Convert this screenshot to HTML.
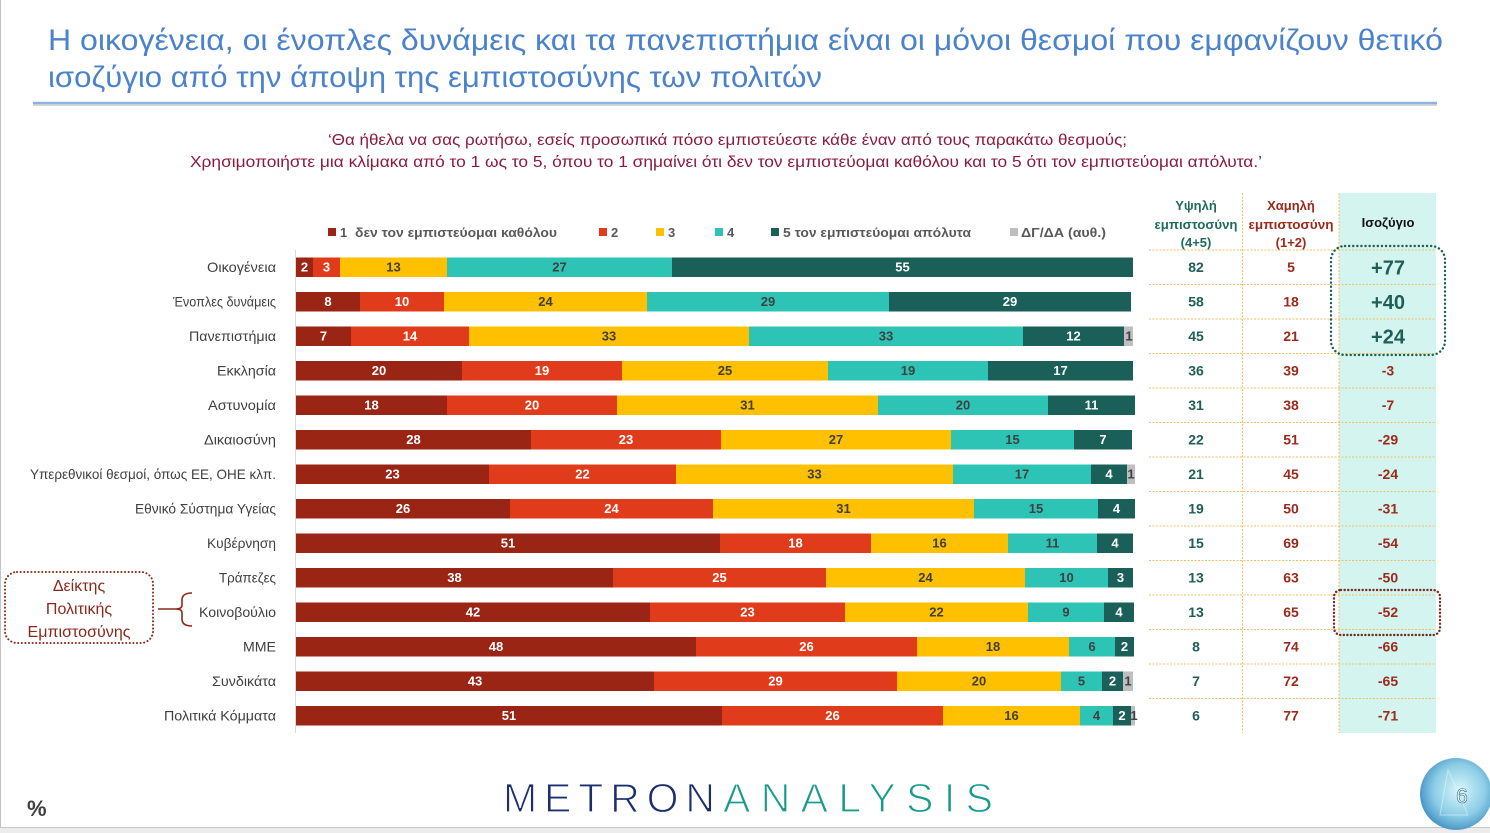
<!DOCTYPE html>
<html><head><meta charset="utf-8"><style>
html,body{margin:0;padding:0;background:#fff;}
svg{display:block;font-family:"Liberation Sans","DejaVu Sans",sans-serif;}
.cat{font-size:14px;fill:#404040;text-anchor:end;}
.bl{font-size:13px;font-weight:bold;text-anchor:middle;}
.w{fill:#fff;} .d{fill:#404040;}
.lg{font-size:13px;font-weight:bold;fill:#595959;}
.tv{font-size:14px;font-weight:bold;text-anchor:middle;}
.hi{fill:#1f5f57;} .lo{fill:#9b2a1a;}
.big{font-size:20px;font-weight:bold;text-anchor:middle;fill:#1f5f57;}
</style></head><body>
<svg width="1490" height="833" viewBox="0 0 1490 833" xmlns="http://www.w3.org/2000/svg">
<defs>
<radialGradient id="bub" cx="0.55" cy="0.45" r="0.6">
<stop offset="0" stop-color="#d8f6fc"/><stop offset="0.6" stop-color="#8ccde6"/><stop offset="1" stop-color="#3c8cc0"/>
</radialGradient>
</defs>
<rect width="1490" height="833" fill="#fff"/>
<line x1="0.5" y1="0" x2="0.5" y2="833" stroke="#c4c4c4" stroke-width="1"/>
<rect x="0" y="827" width="1490" height="6" fill="#ececec"/>
<line x1="0" y1="827.5" x2="1490" y2="827.5" stroke="#c8c8c8"/>

<!-- Title -->
<g font-size="30" fill="#4b82cc">
<text x="48" y="50" textLength="1395" lengthAdjust="spacingAndGlyphs">Η οικογένεια, οι ένοπλες δυνάμεις και τα πανεπιστήμια είναι οι μόνοι θεσμοί που εμφανίζουν θετικό</text>
<text x="48" y="87" textLength="774" lengthAdjust="spacingAndGlyphs">ισοζύγιο από την άποψη της εμπιστοσύνης των πολιτών</text>
</g>
<line x1="33" y1="105" x2="1437" y2="105" stroke="#d8d8d8" stroke-width="2"/>
<line x1="33" y1="103" x2="1437" y2="103" stroke="#8db3e2" stroke-width="2.5"/>

<!-- Subtitle -->
<g font-size="16" fill="#8b1a3e">
<text x="328" y="145" textLength="799" lengthAdjust="spacingAndGlyphs">‘Θα ήθελα να σας ρωτήσω, εσείς προσωπικά πόσο εμπιστεύεστε κάθε έναν από τους παρακάτω θεσμούς;</text>
<text x="190" y="167" textLength="1072" lengthAdjust="spacingAndGlyphs">Χρησιμοποιήστε μια κλίμακα από το 1 ως το 5, όπου το 1 σημαίνει ότι δεν τον εμπιστεύομαι καθόλου και το 5 ότι τον εμπιστεύομαι απόλυτα.’</text>
</g>

<!-- Legend -->
<rect x="328" y="228" width="8" height="8" fill="#9b2515"/>
<text class="lg" x="340" y="237">1</text>
<text class="lg" x="355" y="237" textLength="202" lengthAdjust="spacingAndGlyphs">δεν τον εμπιστεύομαι καθόλου</text>
<rect x="599" y="228" width="8" height="8" fill="#e03c1b"/>
<text class="lg" x="611" y="237">2</text>
<rect x="656" y="228" width="8" height="8" fill="#ffc000"/>
<text class="lg" x="668" y="237">3</text>
<rect x="715" y="228" width="8" height="8" fill="#2ec4b5"/>
<text class="lg" x="727" y="237">4</text>
<rect x="771" y="228" width="8" height="8" fill="#1a5f58"/>
<text class="lg" x="783" y="237" textLength="188" lengthAdjust="spacingAndGlyphs">5 τον εμπιστεύομαι απόλυτα</text>
<rect x="1010" y="228" width="8" height="8" fill="#bfbfbf"/>
<text class="lg" x="1021" y="237" textLength="85" lengthAdjust="spacingAndGlyphs">ΔΓ/ΔΑ (αυθ.)</text>

<!-- Axis -->
<line x1="295.5" y1="250" x2="295.5" y2="733" stroke="#d9d9d9" stroke-width="1"/>

<!-- Category labels -->
<text class="cat" x="276" y="272" textLength="69" lengthAdjust="spacingAndGlyphs">Οικογένεια</text>
<text class="cat" x="276" y="306.5" textLength="103" lengthAdjust="spacingAndGlyphs">Ένοπλες δυνάμεις</text>
<text class="cat" x="276" y="341" textLength="87" lengthAdjust="spacingAndGlyphs">Πανεπιστήμια</text>
<text class="cat" x="276" y="375.5" textLength="59" lengthAdjust="spacingAndGlyphs">Εκκλησία</text>
<text class="cat" x="276" y="410" textLength="68" lengthAdjust="spacingAndGlyphs">Αστυνομία</text>
<text class="cat" x="276" y="444.5" textLength="72" lengthAdjust="spacingAndGlyphs">Δικαιοσύνη</text>
<text class="cat" x="276" y="479" textLength="246" lengthAdjust="spacingAndGlyphs">Υπερεθνικοί θεσμοί, όπως ΕΕ, ΟΗΕ κλπ.</text>
<text class="cat" x="276" y="513.5" textLength="141" lengthAdjust="spacingAndGlyphs">Εθνικό Σύστημα Υγείας</text>
<text class="cat" x="276" y="548" textLength="69" lengthAdjust="spacingAndGlyphs">Κυβέρνηση</text>
<text class="cat" x="276" y="582.5" textLength="57" lengthAdjust="spacingAndGlyphs">Τράπεζες</text>
<text class="cat" x="276" y="617" textLength="77" lengthAdjust="spacingAndGlyphs">Κοινοβούλιο</text>
<text class="cat" x="276" y="651.5" textLength="33" lengthAdjust="spacingAndGlyphs">ΜΜΕ</text>
<text class="cat" x="276" y="686" textLength="64" lengthAdjust="spacingAndGlyphs">Συνδικάτα</text>
<text class="cat" x="276" y="720.5" textLength="112" lengthAdjust="spacingAndGlyphs">Πολιτικά Κόμματα</text>

<!-- Bars -->
<g>
<!-- R1 -->
<rect x="296" y="257.5" width="17" height="19.5" fill="#9b2515"/>
<rect x="313" y="257.5" width="27" height="19.5" fill="#e03c1b"/>
<rect x="340" y="257.5" width="107" height="19.5" fill="#ffc000"/>
<rect x="447" y="257.5" width="225" height="19.5" fill="#2ec4b5"/>
<rect x="672" y="257.5" width="461" height="19.5" fill="#1a5f58"/>
<text class="bl w" x="304.5" y="271.5">2</text><text class="bl w" x="326.5" y="271.5">3</text><text class="bl d" x="393.5" y="271.5">13</text><text class="bl d" x="559.5" y="271.5">27</text><text class="bl w" x="902.5" y="271.5">55</text>
<!-- R2 -->
<rect x="296" y="292" width="64" height="19.5" fill="#9b2515"/>
<rect x="360" y="292" width="84" height="19.5" fill="#e03c1b"/>
<rect x="444" y="292" width="203" height="19.5" fill="#ffc000"/>
<rect x="647" y="292" width="242" height="19.5" fill="#2ec4b5"/>
<rect x="889" y="292" width="242" height="19.5" fill="#1a5f58"/>
<text class="bl w" x="328" y="306">8</text><text class="bl w" x="402" y="306">10</text><text class="bl d" x="545.5" y="306">24</text><text class="bl d" x="768" y="306">29</text><text class="bl w" x="1010" y="306">29</text>
<!-- R3 -->
<rect x="296" y="326.5" width="55" height="19.5" fill="#9b2515"/>
<rect x="351" y="326.5" width="118" height="19.5" fill="#e03c1b"/>
<rect x="469" y="326.5" width="280" height="19.5" fill="#ffc000"/>
<rect x="749" y="326.5" width="274" height="19.5" fill="#2ec4b5"/>
<rect x="1023" y="326.5" width="101" height="19.5" fill="#1a5f58"/>
<rect x="1124" y="326.5" width="9" height="19.5" fill="#bfbfbf"/>
<text class="bl w" x="323.5" y="340.5">7</text><text class="bl w" x="410" y="340.5">14</text><text class="bl d" x="609" y="340.5">33</text><text class="bl d" x="886" y="340.5">33</text><text class="bl w" x="1073.5" y="340.5">12</text><text class="bl d" x="1129" y="340.5">1</text>
<!-- R4 -->
<rect x="296" y="361" width="166" height="19.5" fill="#9b2515"/>
<rect x="462" y="361" width="160" height="19.5" fill="#e03c1b"/>
<rect x="622" y="361" width="206" height="19.5" fill="#ffc000"/>
<rect x="828" y="361" width="160" height="19.5" fill="#2ec4b5"/>
<rect x="988" y="361" width="145" height="19.5" fill="#1a5f58"/>
<text class="bl w" x="379" y="375">20</text><text class="bl w" x="542" y="375">19</text><text class="bl d" x="725" y="375">25</text><text class="bl d" x="908" y="375">19</text><text class="bl w" x="1060.5" y="375">17</text>
<!-- R5 -->
<rect x="296" y="395.5" width="151" height="19.5" fill="#9b2515"/>
<rect x="447" y="395.5" width="170" height="19.5" fill="#e03c1b"/>
<rect x="617" y="395.5" width="261" height="19.5" fill="#ffc000"/>
<rect x="878" y="395.5" width="170" height="19.5" fill="#2ec4b5"/>
<rect x="1048" y="395.5" width="87" height="19.5" fill="#1a5f58"/>
<text class="bl w" x="371.5" y="409.5">18</text><text class="bl w" x="532" y="409.5">20</text><text class="bl d" x="747.5" y="409.5">31</text><text class="bl d" x="963" y="409.5">20</text><text class="bl w" x="1091.5" y="409.5">11</text>
<!-- R6 -->
<rect x="296" y="430" width="235" height="19.5" fill="#9b2515"/>
<rect x="531" y="430" width="190" height="19.5" fill="#e03c1b"/>
<rect x="721" y="430" width="230" height="19.5" fill="#ffc000"/>
<rect x="951" y="430" width="123" height="19.5" fill="#2ec4b5"/>
<rect x="1074" y="430" width="58" height="19.5" fill="#1a5f58"/>
<text class="bl w" x="413.5" y="444">28</text><text class="bl w" x="626" y="444">23</text><text class="bl d" x="836" y="444">27</text><text class="bl d" x="1012.5" y="444">15</text><text class="bl w" x="1103" y="444">7</text>
<!-- R7 -->
<rect x="296" y="464.5" width="193" height="19.5" fill="#9b2515"/>
<rect x="489" y="464.5" width="187" height="19.5" fill="#e03c1b"/>
<rect x="676" y="464.5" width="277" height="19.5" fill="#ffc000"/>
<rect x="953" y="464.5" width="138" height="19.5" fill="#2ec4b5"/>
<rect x="1091" y="464.5" width="36" height="19.5" fill="#1a5f58"/>
<rect x="1127" y="464.5" width="8" height="19.5" fill="#bfbfbf"/>
<text class="bl w" x="392.5" y="478.5">23</text><text class="bl w" x="582.5" y="478.5">22</text><text class="bl d" x="814.5" y="478.5">33</text><text class="bl d" x="1022" y="478.5">17</text><text class="bl w" x="1109" y="478.5">4</text><text class="bl d" x="1131" y="478.5">1</text>
<!-- R8 -->
<rect x="296" y="499" width="214" height="19.5" fill="#9b2515"/>
<rect x="510" y="499" width="203" height="19.5" fill="#e03c1b"/>
<rect x="713" y="499" width="261" height="19.5" fill="#ffc000"/>
<rect x="974" y="499" width="124" height="19.5" fill="#2ec4b5"/>
<rect x="1098" y="499" width="37" height="19.5" fill="#1a5f58"/>
<text class="bl w" x="403" y="513">26</text><text class="bl w" x="611.5" y="513">24</text><text class="bl d" x="843.5" y="513">31</text><text class="bl d" x="1036" y="513">15</text><text class="bl w" x="1116.5" y="513">4</text>
<!-- R9 -->
<rect x="296" y="533.5" width="424" height="19.5" fill="#9b2515"/>
<rect x="720" y="533.5" width="151" height="19.5" fill="#e03c1b"/>
<rect x="871" y="533.5" width="137" height="19.5" fill="#ffc000"/>
<rect x="1008" y="533.5" width="89" height="19.5" fill="#2ec4b5"/>
<rect x="1097" y="533.5" width="36" height="19.5" fill="#1a5f58"/>
<text class="bl w" x="508" y="547.5">51</text><text class="bl w" x="795.5" y="547.5">18</text><text class="bl d" x="939.5" y="547.5">16</text><text class="bl d" x="1052.5" y="547.5">11</text><text class="bl w" x="1115" y="547.5">4</text>
<!-- R10 -->
<rect x="296" y="568" width="317" height="19.5" fill="#9b2515"/>
<rect x="613" y="568" width="213" height="19.5" fill="#e03c1b"/>
<rect x="826" y="568" width="199" height="19.5" fill="#ffc000"/>
<rect x="1025" y="568" width="83" height="19.5" fill="#2ec4b5"/>
<rect x="1108" y="568" width="25" height="19.5" fill="#1a5f58"/>
<text class="bl w" x="454.5" y="582">38</text><text class="bl w" x="719.5" y="582">25</text><text class="bl d" x="925.5" y="582">24</text><text class="bl d" x="1066.5" y="582">10</text><text class="bl w" x="1120.5" y="582">3</text>
<!-- R11 -->
<rect x="296" y="602.5" width="354" height="19.5" fill="#9b2515"/>
<rect x="650" y="602.5" width="195" height="19.5" fill="#e03c1b"/>
<rect x="845" y="602.5" width="183" height="19.5" fill="#ffc000"/>
<rect x="1028" y="602.5" width="76" height="19.5" fill="#2ec4b5"/>
<rect x="1104" y="602.5" width="30" height="19.5" fill="#1a5f58"/>
<text class="bl w" x="473" y="616.5">42</text><text class="bl w" x="747.5" y="616.5">23</text><text class="bl d" x="936.5" y="616.5">22</text><text class="bl d" x="1066" y="616.5">9</text><text class="bl w" x="1119" y="616.5">4</text>
<!-- R12 -->
<rect x="296" y="637" width="400" height="19.5" fill="#9b2515"/>
<rect x="696" y="637" width="221" height="19.5" fill="#e03c1b"/>
<rect x="917" y="637" width="152" height="19.5" fill="#ffc000"/>
<rect x="1069" y="637" width="46" height="19.5" fill="#2ec4b5"/>
<rect x="1115" y="637" width="19" height="19.5" fill="#1a5f58"/>
<text class="bl w" x="496" y="651">48</text><text class="bl w" x="806.5" y="651">26</text><text class="bl d" x="993" y="651">18</text><text class="bl d" x="1092" y="651">6</text><text class="bl w" x="1124.5" y="651">2</text>
<!-- R13 -->
<rect x="296" y="671.5" width="358" height="19.5" fill="#9b2515"/>
<rect x="654" y="671.5" width="243" height="19.5" fill="#e03c1b"/>
<rect x="897" y="671.5" width="164" height="19.5" fill="#ffc000"/>
<rect x="1061" y="671.5" width="41" height="19.5" fill="#2ec4b5"/>
<rect x="1102" y="671.5" width="21" height="19.5" fill="#1a5f58"/>
<rect x="1123" y="671.5" width="10" height="19.5" fill="#bfbfbf"/>
<text class="bl w" x="475" y="685.5">43</text><text class="bl w" x="775.5" y="685.5">29</text><text class="bl d" x="979" y="685.5">20</text><text class="bl d" x="1081.5" y="685.5">5</text><text class="bl w" x="1112.5" y="685.5">2</text><text class="bl d" x="1128" y="685.5">1</text>
<!-- R14 -->
<rect x="296" y="706" width="426" height="19.5" fill="#9b2515"/>
<rect x="722" y="706" width="221" height="19.5" fill="#e03c1b"/>
<rect x="943" y="706" width="137" height="19.5" fill="#ffc000"/>
<rect x="1080" y="706" width="33" height="19.5" fill="#2ec4b5"/>
<rect x="1113" y="706" width="18" height="19.5" fill="#1a5f58"/>
<rect x="1131" y="706" width="4" height="19.5" fill="#bfbfbf"/>
<text class="bl w" x="509" y="720">51</text><text class="bl w" x="832.5" y="720">26</text><text class="bl d" x="1011.5" y="720">16</text><text class="bl d" x="1096.5" y="720">4</text><text class="bl w" x="1122" y="720">2</text><text class="bl d" x="1134" y="720">1</text>
</g>

<!-- Table -->
<rect x="1339" y="193" width="97" height="540" fill="#d4f4ef"/>
<g stroke="#f2c060" stroke-width="1" stroke-dasharray="2 1.5">
<line x1="1242.5" y1="193" x2="1242.5" y2="733"/>
<line x1="1339" y1="193" x2="1339" y2="733"/>
<line x1="1149" y1="250" x2="1436" y2="250"/>
<line x1="1149" y1="284.5" x2="1436" y2="284.5"/>
<line x1="1149" y1="319" x2="1436" y2="319"/>
<line x1="1149" y1="353.5" x2="1436" y2="353.5"/>
<line x1="1149" y1="388" x2="1436" y2="388"/>
<line x1="1149" y1="422.5" x2="1436" y2="422.5"/>
<line x1="1149" y1="457" x2="1436" y2="457"/>
<line x1="1149" y1="491.5" x2="1436" y2="491.5"/>
<line x1="1149" y1="526" x2="1436" y2="526"/>
<line x1="1149" y1="560.5" x2="1436" y2="560.5"/>
<line x1="1149" y1="595" x2="1436" y2="595"/>
<line x1="1149" y1="629.5" x2="1436" y2="629.5"/>
<line x1="1149" y1="664" x2="1436" y2="664"/>
<line x1="1149" y1="698.5" x2="1436" y2="698.5"/>
</g>
<g font-size="13" font-weight="bold" text-anchor="middle">
<text x="1196" y="210" fill="#1f6b5e">Υψηλή</text>
<text x="1196" y="229" fill="#1f6b5e" textLength="83" lengthAdjust="spacingAndGlyphs">εμπιστοσύνη</text>
<text x="1196" y="247" fill="#1f6b5e">(4+5)</text>
<text x="1291" y="210" fill="#9b2a1a">Χαμηλή</text>
<text x="1291" y="229" fill="#9b2a1a" textLength="85" lengthAdjust="spacingAndGlyphs">εμπιστοσύνη</text>
<text x="1291" y="247" fill="#9b2a1a">(1+2)</text>
<text x="1388" y="227" fill="#111">Ισοζύγιο</text>
</g>
<g>
<text class="tv hi" x="1196" y="272">82</text><text class="tv lo" x="1291" y="272">5</text><text class="big" x="1388" y="274.5">+77</text>
<text class="tv hi" x="1196" y="306.5">58</text><text class="tv lo" x="1291" y="306.5">18</text><text class="big" x="1388" y="309">+40</text>
<text class="tv hi" x="1196" y="341">45</text><text class="tv lo" x="1291" y="341">21</text><text class="big" x="1388" y="343.5">+24</text>
<text class="tv hi" x="1196" y="375.5">36</text><text class="tv lo" x="1291" y="375.5">39</text><text class="tv lo" x="1388" y="375.5">-3</text>
<text class="tv hi" x="1196" y="410">31</text><text class="tv lo" x="1291" y="410">38</text><text class="tv lo" x="1388" y="410">-7</text>
<text class="tv hi" x="1196" y="444.5">22</text><text class="tv lo" x="1291" y="444.5">51</text><text class="tv lo" x="1388" y="444.5">-29</text>
<text class="tv hi" x="1196" y="479">21</text><text class="tv lo" x="1291" y="479">45</text><text class="tv lo" x="1388" y="479">-24</text>
<text class="tv hi" x="1196" y="513.5">19</text><text class="tv lo" x="1291" y="513.5">50</text><text class="tv lo" x="1388" y="513.5">-31</text>
<text class="tv hi" x="1196" y="548">15</text><text class="tv lo" x="1291" y="548">69</text><text class="tv lo" x="1388" y="548">-54</text>
<text class="tv hi" x="1196" y="582.5">13</text><text class="tv lo" x="1291" y="582.5">63</text><text class="tv lo" x="1388" y="582.5">-50</text>
<text class="tv hi" x="1196" y="617">13</text><text class="tv lo" x="1291" y="617">65</text><text class="tv lo" x="1388" y="617">-52</text>
<text class="tv hi" x="1196" y="651.5">8</text><text class="tv lo" x="1291" y="651.5">74</text><text class="tv lo" x="1388" y="651.5">-66</text>
<text class="tv hi" x="1196" y="686">7</text><text class="tv lo" x="1291" y="686">72</text><text class="tv lo" x="1388" y="686">-65</text>
<text class="tv hi" x="1196" y="720.5">6</text><text class="tv lo" x="1291" y="720.5">77</text><text class="tv lo" x="1388" y="720.5">-71</text>
</g>

<!-- Dotted boxes -->
<rect x="1331" y="246" width="114" height="109" rx="14" fill="none" stroke="#1f5f57" stroke-width="2.4" stroke-dasharray="0.1 4" stroke-linecap="round"/>
<rect x="1334" y="590" width="106" height="45" rx="7" fill="none" stroke="#7a2a22" stroke-width="2.4" stroke-dasharray="0.1 3.5" stroke-linecap="round"/>

<!-- Left annotation -->
<rect x="5" y="572" width="148" height="71" rx="12" fill="none" stroke="#8b2a1a" stroke-width="2" stroke-dasharray="0.1 3.5" stroke-linecap="round"/>
<g font-size="16" fill="#8b2a1a" text-anchor="middle">
<text x="79" y="591">Δείκτης</text>
<text x="79" y="614">Πολιτικής</text>
<text x="79" y="637" textLength="103" lengthAdjust="spacingAndGlyphs">Εμπιστοσύνης</text>
</g>
<path d="M158 609 L177 609 M192 593 Q182 593 182 600 L182 605 Q182 609 176 609 Q182 609 182 613 L182 619 Q182 626 192 626" fill="none" stroke="#8b2a1a" stroke-width="1.6"/>

<!-- Footer -->
<text x="27" y="816" font-size="22" font-weight="bold" fill="#404040">%</text>
<text x="503" y="812" font-size="41" fill="#1b2f6e" stroke="#fff" stroke-width="1.2" textLength="212" lengthAdjust="spacing">METRON</text>
<text x="723" y="812" font-size="41" fill="#1a9a8c" stroke="#fff" stroke-width="1.2" textLength="270" lengthAdjust="spacing">ANALYSIS</text>
<circle cx="1456" cy="794" r="36" fill="url(#bub)"/>
<path d="M1448 770 L1468 815 L1440 815 Z" fill="none" stroke="#e8fbff" stroke-opacity="0.5" stroke-width="1"/>
<text x="1462" y="803" font-size="21" fill="#fff" stroke="#2f6f8f" stroke-width="0.6" text-anchor="middle">6</text>
</svg>
</body></html>
